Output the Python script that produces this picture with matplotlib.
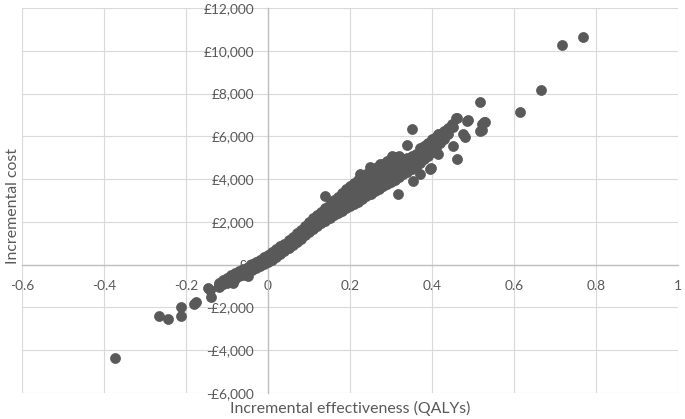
import matplotlib
matplotlib.use("Agg")
import matplotlib.pyplot as plt
from matplotlib.ticker import FuncFormatter, MultipleLocator

plt.rcParams['font.family'] = ['Lato', 'DejaVu Sans']

# Simulated incremental QALYs and costs
# main band, listed column by column
band_effect = (
    [-0.12] * 3 + [-0.11] * 3 + [-0.10] * 3 + [-0.09] * 3 + [-0.08] * 3
    + [-0.07] * 3 + [-0.06] * 3 + [-0.05] * 3 + [-0.04] * 3 + [-0.03] * 3
    + [-0.02] * 3 + [-0.01] * 3 + [0.00] * 3 + [0.01] * 3 + [0.02] * 3
    + [0.03] * 3 + [0.04] * 3 + [0.05] * 3 + [0.06] * 3 + [0.07] * 3
    + [0.08] * 3 + [0.09] * 3 + [0.10] * 3
    + [0.11] * 5 + [0.12] * 5 + [0.13] * 5 + [0.14] * 5 + [0.15] * 5
    + [0.16] * 5 + [0.17] * 5 + [0.18] * 5 + [0.19] * 5 + [0.20] * 5
    + [0.21] * 5 + [0.22] * 5 + [0.23] * 5 + [0.24] * 5 + [0.25] * 5
    + [0.26] * 5 + [0.27] * 5 + [0.28] * 5 + [0.29] * 5 + [0.30] * 5
    + [0.31] * 5 + [0.32] * 5
    + [0.33] * 4 + [0.34] * 4 + [0.35] * 4 + [0.36] * 4
    + [0.37] * 3 + [0.38] * 3 + [0.39] * 3 + [0.40] * 3 + [0.41] * 3
    + [0.42] * 2 + [0.43] * 2 + [0.44] * 2 + [0.45] * 1
)
band_cost = [
    -1030, -930, -840,
    -920, -830, -740,
    -840, -720, -620,
    -740, -630, -500,
    -650, -520, -410,
    -550, -410, -300,
    -460, -340, -200,
    -360, -230, -100,
    -270, -120, 10,
    -170, -30, 120,
    -70, 90, 230,
    20, 170, 340,
    120, 290, 440,
    240, 400, 580,
    360, 550, 720,
    490, 660, 850,
    620, 810, 980,
    770, 950, 1140,
    910, 1120, 1300,
    1060, 1260, 1480,
    1210, 1440, 1640,
    1380, 1590, 1810,
    1530, 1770, 1980,
    1660, 1800, 1910, 2050, 2160,
    1810, 1930, 2070, 2190, 2310,
    1930, 2080, 2200, 2350, 2480,
    2060, 2200, 2370, 2510, 2650,
    2190, 2350, 2500, 2690, 2830,
    2300, 2490, 2660, 2830, 3020,
    2420, 2600, 2810, 3000, 3180,
    2520, 2740, 2930, 3160, 3350,
    2630, 2840, 3080, 3290, 3520,
    2730, 2980, 3200, 3450, 3660,
    2840, 3080, 3340, 3580, 3830,
    2950, 3220, 3460, 3740, 3980,
    3060, 3320, 3610, 3860, 4140,
    3190, 3470, 3720, 4010, 4260,
    3310, 3570, 3860, 4110, 4390,
    3430, 3710, 3960, 4250, 4500,
    3540, 3800, 4090, 4340, 4620,
    3660, 3930, 4180, 4470, 4720,
    3760, 4020, 4310, 4560, 4840,
    3870, 4140, 4390, 4680, 4930,
    3980, 4230, 4510, 4750, 5020,
    4110, 4350, 4590, 4860, 5090,
    4220, 4470, 4700, 4920,
    4330, 4550, 4790, 5010,
    4470, 4680, 4870, 5100,
    4580, 4790, 4990, 5170,
    4760, 5100, 5450,
    4940, 5240, 5560,
    5100, 5410, 5690,
    5260, 5540, 5850,
    5440, 5730, 5990,
    5700, 6090,
    5890, 6260,
    6100, 6400,
    6450,
]

# scattered points away from the band
outlier_effect = [
    0.769, 0.717, 0.665, 0.615, 0.517, 0.527, 0.521, 0.489, 0.480, 0.460,
    0.459, 0.485, 0.521, 0.529, 0.517, 0.476, 0.448, 0.432, 0.415, 0.399,
    0.387, 0.415, 0.395, 0.363, 0.346, 0.306, 0.302, 0.371, 0.354, 0.350,
    0.338, 0.452, 0.462, 0.397, 0.318, 0.224, 0.139, 0.259, 0.273, 0.249,
    -0.372, -0.266, -0.244, -0.211, -0.212, -0.180, -0.175, -0.146, -0.140,
    -0.142, -0.114, -0.085, -0.050,
]
outlier_cost = [
    10650, 10270, 8150, 7150, 7600, 6650, 6290, 6780, 5950, 6880,
    6880, 6730, 6575, 6650, 6230, 6110, 6575, 6180, 6110, 5870,
    5640, 5170, 4470, 5010, 5010, 5010, 5090, 4240, 3925, 6320,
    5590, 5560, 4940, 4500, 3290, 4230, 3230, 4470, 4705, 4545,
    -4380, -2410, -2540, -1990, -2380, -1840, -1750, -1090, -1500,
    -1200, -930, -840, -530,
]

effect = band_effect + outlier_effect
cost = band_cost + outlier_cost

fig = plt.figure(figsize=(6.85, 4.19), dpi=100)
renderer = fig.canvas.get_renderer()


def fit_size(text, width_px, size=10):
    # font size that makes `text` about width_px wide
    t = fig.text(0, 0, text, fontsize=size)
    w = t.get_window_extent(renderer=renderer).width
    t.remove()
    return size * width_px / w


tick_size = fit_size('-£6,000', 48)
title_size = fit_size('Incremental effectiveness (QALYs)', 239)

ax = fig.add_axes([22 / 685, 1 - 393 / 419, 656 / 685, 385 / 419])

ax.scatter(effect, cost, s=52, color='#595959', edgecolors='#595959',
           linewidths=0.5, zorder=3)

ax.set_xlim(-0.6, 1.0)
ax.set_ylim(-6000, 12000)
ax.xaxis.set_major_locator(MultipleLocator(0.2))
ax.yaxis.set_major_locator(MultipleLocator(2000))


def money(v, pos):
    v = int(round(v))
    if v < 0:
        return '-£{:,}'.format(-v)
    return '£{:,}'.format(v)


def dec(v, pos):
    if abs(v) < 1e-9:
        return '0'
    if abs(v - 1) < 1e-9:
        return '1'
    return '{:.1f}'.format(v)


ax.yaxis.set_major_formatter(FuncFormatter(money))
ax.xaxis.set_major_formatter(FuncFormatter(dec))

ax.grid(True, color='#d9d9d9', linewidth=0.8)
ax.set_axisbelow(True)

for side in ['top', 'right']:
    ax.spines[side].set_visible(False)
ax.spines['left'].set_position(('data', 0))
ax.spines['bottom'].set_position(('data', 0))
ax.spines['left'].set_color('#bfbfbf')
ax.spines['bottom'].set_color('#bfbfbf')
ax.spines['left'].set_linewidth(1.0)
ax.spines['bottom'].set_linewidth(1.0)

ax.tick_params(axis='both', length=0, labelsize=tick_size, labelcolor='#595959')
ax.tick_params(axis='y', pad=10)
ax.tick_params(axis='x', pad=11)

fig.text(13 / 685, 1 - 206 / 419, 'Incremental cost', rotation=90,
         ha='center', va='center', fontsize=title_size, color='#595959')
fig.text(350 / 685, 1 - 412.5 / 419, 'Incremental effectiveness (QALYs)',
         ha='center', va='baseline', fontsize=title_size, color='#595959')

fig.savefig('out.png', dpi=100)
